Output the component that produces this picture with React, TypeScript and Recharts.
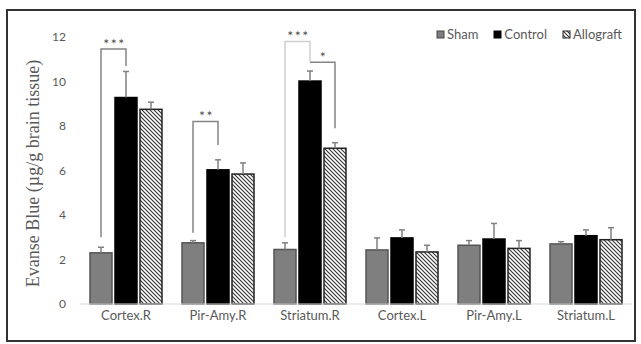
import React from 'react';
import { BarChart, Bar, XAxis, YAxis, Legend, Label } from 'recharts';

const categories = ['Cortex.R', 'Pir-Amy.R', 'Striatum.R', 'Cortex.L', 'Pir-Amy.L', 'Striatum.L'];
const sham = [2.3, 2.75, 2.45, 2.43, 2.64, 2.7];
const control = [9.28, 6.03, 10.02, 2.97, 2.92, 3.07];
const allograft = [8.75, 5.84, 7.0, 2.34, 2.5, 2.89];
const shamErr = [0.25, 0.1, 0.3, 0.54, 0.21, 0.1];
const controlErr = [1.17, 0.45, 0.45, 0.36, 0.7, 0.26];
const allograftErr = [0.32, 0.5, 0.25, 0.3, 0.35, 0.54];
const yTicks = [0, 2, 4, 6, 8, 10, 12];

// significance brackets: pair = which two bars, values in µg/g
const brackets = [
  { cat: 'Cortex.R', pair: 'SC', top: 11.46, left: 3.0, right: 10.7, label: '***', color: '#858585' },
  { cat: 'Pir-Amy.R', pair: 'SC', top: 8.2, left: 3.2, right: 7.15, label: '**', color: '#858585' },
  { cat: 'Striatum.R', pair: 'SC', top: 11.8, left: 3.0, right: 10.9, label: '***', color: '#cfcfcf' },
  { cat: 'Striatum.R', pair: 'CA', top: 10.87, left: 10.87, right: 7.9, label: '*', color: '#858585' },
];

const data = categories.map((name, i) => ({
  name,
  sham: sham[i],
  control: control[i],
  allograft: allograft[i],
  shamErr: shamErr[i],
  controlErr: controlErr[i],
  allograftErr: allograftErr[i],
}));

const BAR_GAP = 3;
const FONT = 'Lato, "Open Sans", sans-serif';

function makeShape(key: string, fill: string, stroke: string, pair?: string) {
  return (props: any) => {
    const { x, y, width, height, payload } = props;
    const v = payload[key];
    const err = payload[key + 'Err'];
    const k = height / v; // px per unit
    const base = y + height;
    const cx = x + width / 2;
    const ey = base - (v + err) * k;
    const bs = pair ? brackets.filter(b => b.cat === payload.name && b.pair === pair) : [];
    return (
      <g>
        <rect x={x} y={y} width={width} height={height} fill={fill} stroke={stroke} strokeWidth={1.5} />
        <line x1={cx} y1={y} x2={cx} y2={ey} stroke="#808080" strokeWidth={1.5} />
        <line x1={cx - 3} y1={ey} x2={cx + 3} y2={ey} stroke="#808080" strokeWidth={1.5} />
        {bs.map((b, i) => {
          const lx = cx - (width + BAR_GAP);
          const ty = base - b.top * k;
          return (
            <g key={i}>
              <polyline
                points={`${lx},${base - b.left * k} ${lx},${ty} ${cx},${ty} ${cx},${base - b.right * k}`}
                fill="none" stroke={b.color} strokeWidth={1.5}
              />
              <text x={(lx + cx) / 2 + 1} y={ty - 0.5} textAnchor="middle" fontSize={14} letterSpacing={1.5}
                fill="#4a4a4a" fontFamily={FONT}>{b.label}</text>
            </g>
          );
        })}
      </g>
    );
  };
}

const legendItems = [
  { name: 'Sham', fill: '#7f7f7f', stroke: '#444' },
  { name: 'Control', fill: '#000', stroke: '#000' },
  { name: 'Allograft', fill: 'url(#hatch)', stroke: '#222' },
];

function renderLegend() {
  return (
    <div style={{ display: 'flex', fontFamily: FONT, fontSize: 13, color: '#595959', lineHeight: '15px' }}>
      {legendItems.map(it => (
        <div key={it.name} style={{ display: 'flex', alignItems: 'center', marginRight: 15 }}>
          <svg width={9} height={9} style={{ marginRight: 2 }}>
            <rect x={1} y={1} width={7} height={7} fill={it.fill} stroke={it.stroke} strokeWidth={1} />
          </svg>
          <span>{it.name}</span>
        </div>
      ))}
    </div>
  );
}

function YLabel(props: any) {
  const { viewBox } = props;
  const cy = viewBox.y + viewBox.height / 2 + 3;
  return (
    <text x={39} y={cy} transform={`rotate(-90, 39, ${cy})`} textAnchor="middle" fontSize={18}
      fill="#595959" fontFamily='"Liberation Serif", serif'>
      Evanse Blue (µg/g brain tissue)
    </text>
  );
}

export default function App() {
  return (
    <div style={{ position: 'absolute', left: 0, top: 0, width: 641, height: 344, background: '#fff' }}>
      <div style={{ position: 'absolute', left: 6, top: 9, width: 630, height: 333, border: '2px solid #333', boxSizing: 'border-box' }} />
      <BarChart width={641} height={344} data={data} margin={{ top: 37, right: 9, bottom: 10, left: 6 }}
        barCategoryGap={10} barGap={BAR_GAP}>
        <defs>
          <pattern id="hatch" patternUnits="userSpaceOnUse" width={4} height={4}>
            <rect width={4} height={4} fill="#fff" />
            <path d="M-1,-1 L5,5 M3,-1 L5,1 M-1,3 L1,5" stroke="#333" strokeWidth={1.1} />
          </pattern>
        </defs>
        <XAxis dataKey="name" tickLine={false} axisLine={{ stroke: '#d9d9d9' }} tickMargin={1}
          tick={{ fontSize: 13, fill: '#595959', fontFamily: FONT }} interval={0} />
        <YAxis width={74} domain={[0, 12]} ticks={yTicks} axisLine={false} tickLine={false} tickMargin={8}
          tick={{ fontSize: 12, fill: '#595959', fontFamily: FONT }}>
          <Label content={<YLabel />} />
        </YAxis>
        <Legend layout="horizontal" verticalAlign="middle" align="center" content={renderLegend}
          wrapperStyle={{ top: 27, left: 436, width: 210, height: 16 }} />
        <Bar dataKey="sham" name="Sham" isAnimationActive={false} shape={makeShape('sham', '#7f7f7f', '#555')} />
        <Bar dataKey="control" name="Control" isAnimationActive={false} shape={makeShape('control', '#000', '#000', 'SC')} />
        <Bar dataKey="allograft" name="Allograft" isAnimationActive={false} shape={makeShape('allograft', 'url(#hatch)', '#222', 'CA')} />
      </BarChart>
    </div>
  );
}
